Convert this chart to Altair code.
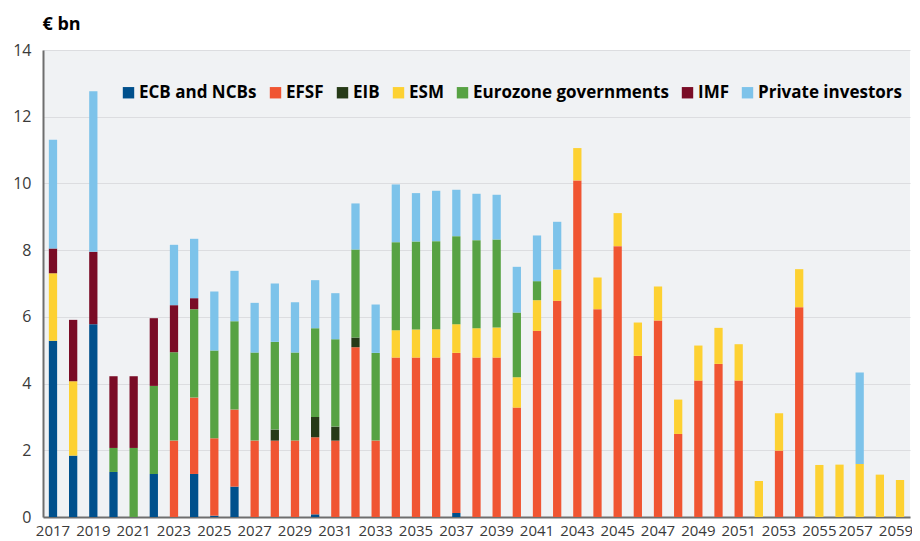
import altair as alt
import pandas as pd

years = [2017, 2018, 2019, 2020, 2021, 2022, 2023, 2024, 2025, 2026,
         2027, 2028, 2029, 2030, 2031, 2032, 2033, 2034, 2035, 2036,
         2037, 2038, 2039, 2040, 2041, 2042, 2043, 2044, 2045, 2046,
         2047, 2048, 2049, 2050, 2051, 2052, 2053, 2054, 2055, 2056,
         2057, 2058, 2059]

tick_years = [2017, 2019, 2021, 2023, 2025, 2027, 2029, 2031, 2033, 2035, 2037,
              2039, 2041, 2043, 2045, 2047, 2049, 2051, 2053, 2055, 2057, 2059]

series = ["ECB and NCBs", "EFSF", "EIB", "ESM", "Eurozone governments", "IMF", "Private investors"]
colors = ["#00508c", "#f05532", "#263a17", "#fdd132", "#57a243", "#7a0c26", "#7dc3ea"]

ecb = [5.28, 1.84, 5.78, 1.35, 0, 1.29, 0, 1.29, 0.04, 0.91,
       0, 0, 0, 0.08, 0, 0, 0, 0, 0, 0,
       0.12, 0, 0, 0, 0, 0, 0, 0, 0, 0,
       0, 0, 0, 0, 0, 0, 0, 0, 0, 0,
       0, 0, 0]
efsf = [0, 0, 0, 0, 0, 0, 2.29, 2.29, 2.32, 2.31,
        2.29, 2.29, 2.29, 2.31, 2.29, 5.09, 2.29, 4.78, 4.78, 4.78,
        4.80, 4.78, 4.78, 3.28, 5.58, 6.48, 10.09, 6.23, 8.12, 4.83,
        5.89, 2.49, 4.09, 4.59, 4.09, 0, 1.99, 6.29, 0, 0,
        0, 0, 0]
eib = [0, 0, 0, 0, 0, 0, 0, 0, 0, 0,
       0, 0.33, 0, 0.61, 0.42, 0.29, 0, 0, 0, 0,
       0, 0, 0, 0, 0, 0, 0, 0, 0, 0,
       0, 0, 0, 0, 0, 0, 0, 0, 0, 0,
       0, 0, 0]
esm = [2.03, 2.23, 0, 0, 0, 0, 0, 0, 0, 0,
       0, 0, 0, 0, 0, 0, 0, 0.82, 0.84, 0.85,
       0.86, 0.88, 0.90, 0.91, 0.92, 0.94, 0.97, 0.95, 0.99, 1.00,
       1.02, 1.03, 1.05, 1.08, 1.09, 1.08, 1.12, 1.14, 1.56, 1.57,
       1.59, 1.27, 1.11]
ezgov = [0, 0, 0, 0.72, 2.07, 2.64, 2.65, 2.65, 2.63, 2.65,
         2.64, 2.63, 2.64, 2.66, 2.62, 2.64, 2.63, 2.64, 2.64, 2.64,
         2.64, 2.64, 2.64, 1.94, 0.57, 0, 0, 0, 0, 0,
         0, 0, 0, 0, 0, 0, 0, 0, 0, 0,
         0, 0, 0]
imf = [0.74, 1.84, 2.17, 2.15, 2.15, 2.03, 1.41, 0.33, 0, 0,
       0, 0, 0, 0, 0, 0, 0, 0, 0, 0,
       0, 0, 0, 0, 0, 0, 0, 0, 0, 0,
       0, 0, 0, 0, 0, 0, 0, 0, 0, 0,
       0, 0, 0]
private = [3.26, 0, 4.81, 0, 0, 0, 1.81, 1.78, 1.77, 1.51,
           1.49, 1.75, 1.51, 1.44, 1.38, 1.38, 1.45, 1.73, 1.45, 1.51,
           1.39, 1.39, 1.34, 1.37, 1.37, 1.43, 0, 0, 0, 0,
           0, 0, 0, 0, 0, 0, 0, 0, 0, 0,
           2.74, 0, 0]

values_by_series = [ecb, efsf, eib, esm, ezgov, imf, private]

rows = []
for k, (name, vals) in enumerate(zip(series, values_by_series)):
    for y, v in zip(years, vals):
        if v > 0:
            rows.append({"year": y, "series": name, "value": v, "order": k})
df = pd.DataFrame(rows)

FONT = "Open Sans"

chart = alt.Chart(df).mark_bar().encode(
    x=alt.X(
        "year:O",
        sort=years,
        scale=alt.Scale(domain=years, paddingInner=0.59, paddingOuter=0.29),
        axis=alt.Axis(
            values=tick_years, labelAngle=0, title=None, ticks=False,
            domainColor="#6e6e6e", domainWidth=2, labelFontSize=15,
            labelColor="#3a3a3a", labelPadding=6, grid=False, labelFont=FONT,
            labelOffset={"condition": {"test": "datum.value >= 2057", "value": -4}, "value": 0},
        ),
    ),
    y=alt.Y(
        "value:Q",
        stack="zero",
        scale=alt.Scale(domain=[0, 14], nice=False),
        axis=alt.Axis(
            values=[0, 2, 4, 6, 8, 10, 12, 14], title="€ bn", titleAngle=0,
            titleX=-1, titleY=-21, titleAlign="left", titleBaseline="alphabetic",
            titleFontWeight="bold", titleFontSize=18, titleColor="#000000", titleFont=FONT,
            ticks=False, labelPadding=12, labelFontSize=16, labelColor="#3a3a3a",
            labelFont=FONT, gridColor="#dcdde0", gridWidth=1.2,
            domainColor="#6e6e6e", domainWidth=2,
        ),
    ),
    color=alt.Color(
        "series:N",
        scale=alt.Scale(domain=series, range=colors),
        legend=alt.Legend(
            orient="none", legendX=77, legendY=34, direction="horizontal",
            title=None, symbolType="square", symbolSize=130, symbolStrokeWidth=0,
            labelFontSize=17, labelFontWeight="bold", labelColor="#000000",
            labelFont=FONT, columnPadding=10, labelOffset=2, labelLimit=400,
        ),
    ),
    order=alt.Order("order:Q", sort="ascending"),
).properties(
    width=867,
    height=467,
    padding={"left": 35, "top": 42, "right": 2, "bottom": 22},
    autosize=alt.AutoSizeParams(type="none"),
).configure_view(
    fill="#f0f2f4", stroke=None
)

chart.save("out.html", embed_options={"renderer": "svg", "actions": False})
